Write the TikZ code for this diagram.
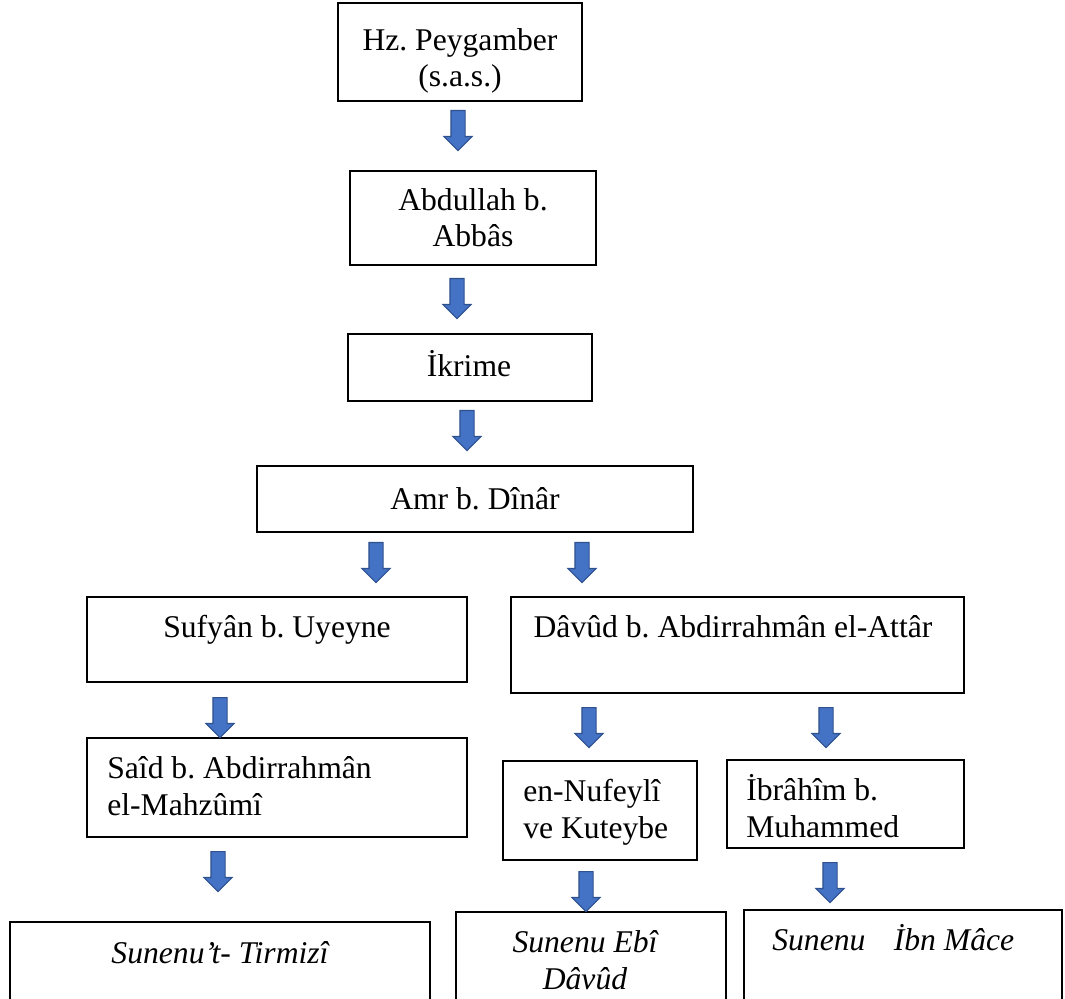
\documentclass[tikz,border=0pt]{standalone}
\usepackage{fontspec}
\setmainfont{Liberation Serif}
\usepackage{xcolor}
\definecolor{chainblue}{RGB}{68, 114, 196}
\definecolor{chainedge}{RGB}{47, 82, 143}
\usetikzlibrary{shapes.arrows, positioning}
\frenchspacing

\begin{document}
\begin{tikzpicture}[
        x=0.02cm, y=-0.02cm,
        font=\fontsize{18pt}{20.5pt}\selectfont,
        narrator/.style={
            rectangle,
            draw=black,
            line width=0.8pt,
            inner sep=0pt,
            align=center
        },
        caption/.style={inner sep=0pt, align=left},
        booktitle/.style={
            inner sep=0pt,
            align=center,
            font=\fontsize{18pt}{20.5pt}\selectfont\itshape
        },
        downarrow/.style={
            single arrow,
            draw=chainedge,
            fill=chainblue,
            line width=0.6pt,
            rotate=-90,
            inner xsep=0pt,
            inner ysep=0.13cm,
            minimum height=0.8cm,
            single arrow head extend=0.14cm
        }
    ]
    \useasboundingbox (0,0) rectangle (1065,998);
    \clip (0,0) rectangle (1065,998);

    % chain of narrators
    \node[narrator, minimum width=4.88cm, minimum height=1.96cm] (peygamber) at (460,52) {};
    \node[caption, align=center] (peygambername) at (460,61) {Hz. Peygamber\\(s.a.s.)};
    \node[narrator, minimum width=4.92cm, minimum height=1.88cm] (abbas) at (473,218) {Abdullah b.\\Abbâs};
    \node[narrator, minimum width=4.88cm, minimum height=1.34cm] (ikrime) at (470,367.5) {};
    \node[caption] (ikrimename) at (469,364) {İkrime};
    \node[narrator, minimum width=8.72cm, minimum height=1.32cm] (dinar) at (475,499) {Amr b. Dînâr};

    \node[narrator, minimum width=7.6cm, minimum height=1.7cm] (sufyan) at (277,639.5) {};
    \node[caption, anchor=base] (sufyanname) at (277,637) {Sufyân b. Uyeyne};
    \node[narrator, minimum width=9.06cm, minimum height=1.92cm] (attar) at (737.5,645) {};
    \node[caption, anchor=base] (attarname) at (733,637) {Dâvûd b. Abdirrahmân el-Attâr};

    \node[narrator, minimum width=7.6cm, minimum height=1.98cm] (mahzumi) at (277,787.5) {};
    \node[caption, anchor=base west] (mahzuminame) at (107,815) {Saîd b. Abdirrahmân\\el-Mahzûmî};
    \node[narrator, minimum width=3.88cm, minimum height=1.98cm] (nufeyli) at (600,810.5) {};
    \node[caption, anchor=base west] (nufeyliname) at (523,838) {en-Nufeylî\\ve Kuteybe};
    \node[narrator, minimum width=4.74cm, minimum height=1.76cm] (ibrahim) at (845.5,804) {};
    \node[caption, anchor=base west] (ibrahimname) at (746,837) {İbrâhîm b.\\Muhammed};

    % the sunen books (cut at the page edge)
    \node[narrator, minimum width=8.4cm, minimum height=2.36cm] (tirmizi) at (220,981) {};
    \node[booktitle, anchor=base] (tirmiziname) at (220,963) {Sunenu’t- Tirmizî};
    \node[narrator, minimum width=5.4cm, minimum height=2.56cm] (ebidavud) at (591,976) {};
    \node[booktitle, anchor=base] (ebidavudname) at (585,989) {Sunenu Ebî\\Dâvûd};
    \node[narrator, minimum width=6.36cm, minimum height=2.6cm, line width=1.1pt] (ibnmace) at (903,975) {};
    \node[booktitle, anchor=base west] (ibnmacename) at (772,950) {Sunenu\hspace{0.9em}İbn Mâce};

    % block arrows
    \node[downarrow] (arr1) at (458,127) {};
    \node[downarrow] (arr2) at (457,295) {};
    \node[downarrow] (arr3) at (467,427) {};
    \node[downarrow] (arr4) at (376,559) {};
    \node[downarrow] (arr5) at (582,559) {};
    \node[downarrow] (arr6) at (220,714) {};
    \node[downarrow] (arr7) at (589,724) {};
    \node[downarrow] (arr8) at (826,724) {};
    \node[downarrow] (arr9) at (218,868) {};
    \node[downarrow] (arr10) at (586,888) {};
    \node[downarrow] (arr11) at (830,879) {};

\end{tikzpicture}
\end{document}
